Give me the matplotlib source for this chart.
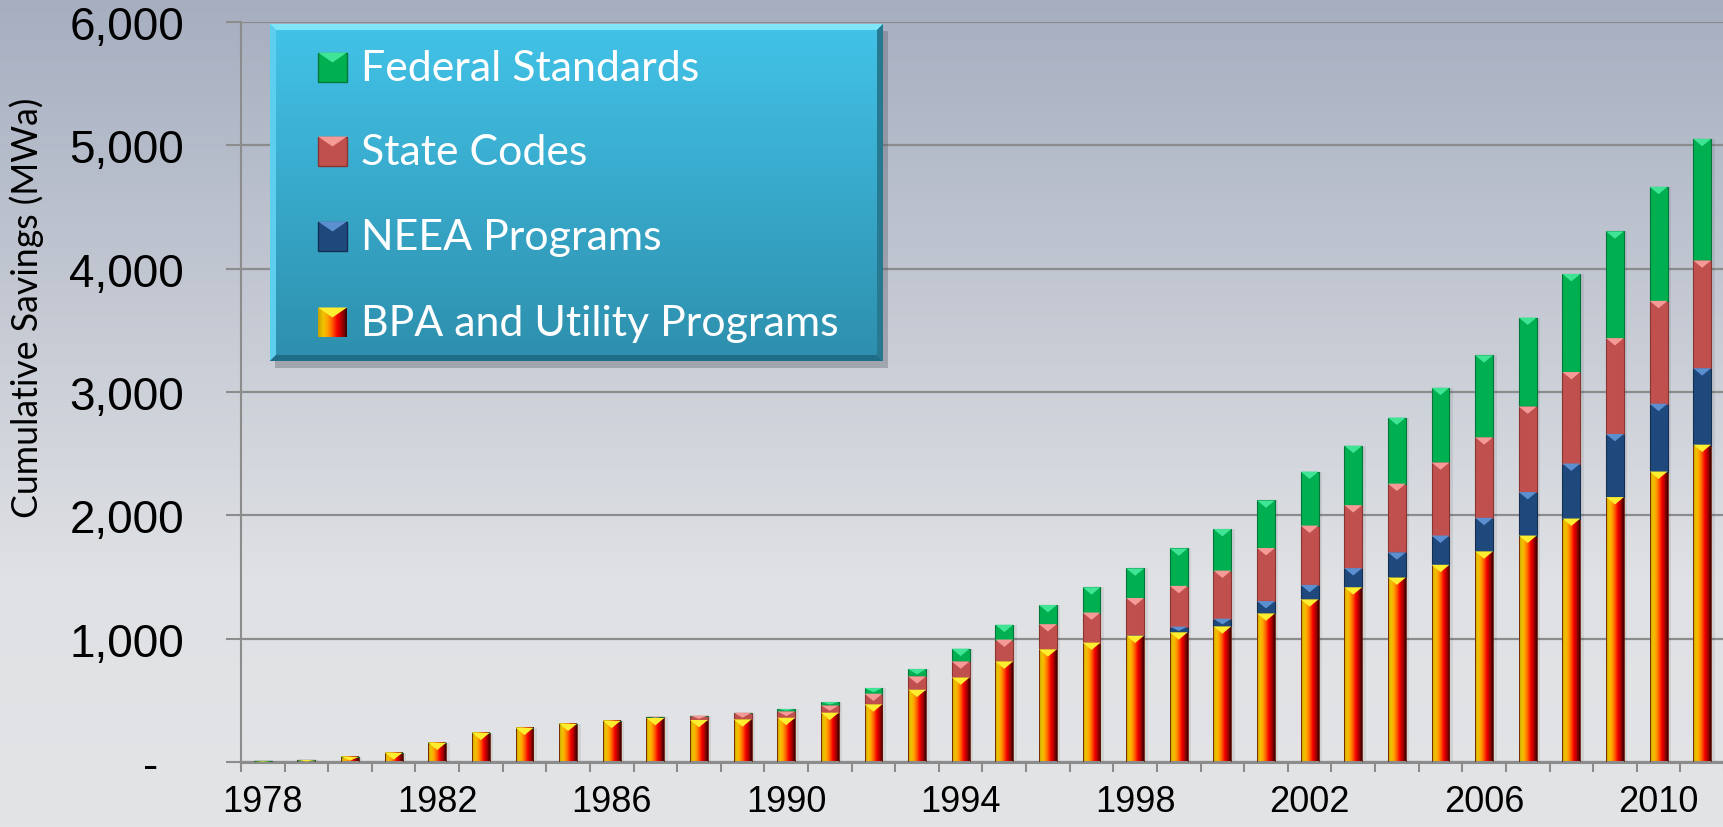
import numpy as np
import matplotlib.pyplot as plt
from matplotlib.patches import Polygon, Rectangle
from matplotlib.colors import LinearSegmentedColormap
from matplotlib.ticker import FuncFormatter

# Cumulative savings by source (MWa), one value per year
years = list(range(1978, 2012))
bpa = [8, 16, 43, 76, 157, 238, 278, 311, 335, 357, 341, 346, 359, 400, 468, 586, 686,
       816, 914, 968, 1025, 1052, 1100, 1205, 1319, 1417, 1496, 1599, 1708, 1836, 1974,
       2148, 2355, 2573]
neea = [0] * 20 + [5, 46, 62, 100, 117, 155, 204, 237, 272, 353, 446, 512, 550, 620]
state = [0] * 9 + [11, 35, 54, 52, 59, 86, 109, 130, 177, 204, 244, 300, 330, 390, 430,
                   481, 511, 557, 593, 653, 694, 742, 777, 834, 874]
federal = [0] * 12 + [19, 27, 46, 59, 103, 120, 155, 205, 240, 304, 337, 386, 438, 482,
                      536, 606, 665, 721, 795, 866, 925, 986]

labels = ['Federal Standards', 'State Codes', 'NEEA Programs', 'BPA and Utility Programs']
label_years = [1978, 1982, 1986, 1990, 1994, 1998, 2002, 2006, 2010]

green, green_lt, green_dk = '#00b050', '#3fe595', '#00763a'
red, red_lt, red_dk = '#c0504d', '#f59a96', '#8a3431'
blue, blue_lt, blue_dk = '#1f497d', '#5b8fd0', '#132e50'
bpa_cmap = LinearSegmentedColormap.from_list(
    'bpa', ['#c4a000', '#f0c400', '#ffa200', '#ff5a00', '#f40000', '#a80000', '#3a0000'])
bpa_img = bpa_cmap(np.linspace(0, 1, 64))[None, :, :]

W, H = 1724, 828
fig = plt.figure(figsize=(W / 100, H / 100), dpi=100)

# background gradient
bg = fig.add_axes([0, 0, 1, 1], zorder=-10)
bg_cmap = LinearSegmentedColormap.from_list(
    'bg', [(0, '#e3e4e6'), (0.3, '#dfe1e4'), (1, '#a6aec0')])
bg.imshow(np.linspace(0, 1, 256).reshape(-1, 1), cmap=bg_cmap, aspect='auto',
          extent=[0, 1, 0, 1], origin='lower')
bg.axis('off')

ax = fig.add_axes([241 / W, 1 - 763 / H, (W - 241) / W, 740 / H])
ax.patch.set_alpha(0)

x = np.array(years)
bw = 0.41
b1 = np.array(bpa)
b2 = b1 + np.array(neea)
b3 = b2 + np.array(state)
total = b3 + np.array(federal)

# soft shadow
ax.bar(x + 0.08, total, bw, color='k', alpha=0.07, lw=0, zorder=1.5)


def bevel(rects, light):
    for r in rects:
        h = r.get_height()
        if h <= 0:
            continue
        x0, w = r.get_x(), r.get_width()
        top = r.get_y() + h
        th = min(60, 0.75 * h)
        ax.add_patch(Polygon([(x0, top), (x0 + w, top), (x0 + w / 2, top - th)],
                             fc=light, ec='none', zorder=4))


bars = ax.bar(x, bpa, bw, color='none', edgecolor='#6a1a00', lw=0.6, zorder=3)
for r in bars:
    if r.get_height() <= 0:
        continue
    x0, y0 = r.get_x(), r.get_y()
    ax.imshow(bpa_img, extent=[x0, x0 + r.get_width(), y0, y0 + r.get_height()],
              aspect='auto', zorder=2.5, interpolation='bilinear')
bevel(bars, '#ffee30')

bars = ax.bar(x, neea, bw, bottom=b1, color=blue, edgecolor=blue_dk, lw=0.8, zorder=3)
bevel(bars, blue_lt)
bars = ax.bar(x, state, bw, bottom=b2, color=red, edgecolor=red_dk, lw=0.8, zorder=3)
bevel(bars, red_lt)
bars = ax.bar(x, federal, bw, bottom=b3, color=green, edgecolor=green_dk, lw=0.8, zorder=3)
bevel(bars, green_lt)

ax.set_xlim(1977.5, 2011.5)
ax.set_ylim(0, 6000)
ax.set_yticks(range(0, 6001, 1000))
ax.yaxis.set_major_formatter(FuncFormatter(lambda v, p: '-  ' if v == 0 else f'{v:,.0f}'))
ax.set_xticks(label_years)
ax.set_xticks(np.arange(1977.5, 2012, 1), minor=True)
ax.grid(axis='y', color='#8c8c8c', lw=1.6)
ax.set_axisbelow(True)
ax.tick_params(axis='y', length=11, width=1.5, color='#8c8c8c', pad=30, labelsize=33)
ax.tick_params(axis='x', which='major', length=0, pad=16, labelsize=26)
ax.tick_params(axis='x', which='minor', length=7, width=1.5, color='#8c8c8c')
for lab in ax.get_xticklabels() + ax.get_yticklabels():
    lab.set_family('Liberation Sans')
for s in ['top', 'right']:
    ax.spines[s].set_visible(False)
ax.spines['left'].set_color('#8c8c8c')
ax.spines['left'].set_linewidth(1.5)
ax.spines['bottom'].set_color('#8c8c8c')
ax.spines['bottom'].set_linewidth(2.2)

ylab = fig.text(27 / W, 1 - 308 / H, 'Cumulative Savings (MWa)', rotation=90, ha='center',
                va='center', fontsize=26, family='Lato')

# legend panel
lx, ly, lw_, lh = 270, 25, 613, 337
pad = 10
leg = fig.add_axes([lx / W, 1 - (ly + lh + pad) / H, (lw_ + pad) / W, (lh + pad) / H], zorder=5)
leg.axis('off')
leg.add_patch(Rectangle((5, 7), lw_, lh, fc='#555a66', alpha=0.35, ec='none', zorder=0.5))
box_cmap = LinearSegmentedColormap.from_list('box', ['#42c3e8', '#2e8fad'])
leg.imshow(np.linspace(0, 1, 128).reshape(-1, 1), cmap=box_cmap, aspect='auto',
           extent=[0, lw_, lh, 0], zorder=1)
b = 6
leg.add_patch(Polygon([(0, 0), (lw_, 0), (lw_ - b, b), (b, b)], fc='#7fe6f8', ec='none', zorder=2))
leg.add_patch(Polygon([(0, 0), (b, b), (b, lh - b), (0, lh)], fc='#5ccfee', ec='none', zorder=2))
leg.add_patch(Polygon([(0, lh), (b, lh - b), (lw_ - b, lh - b), (lw_, lh)], fc='#1f6d86',
                      ec='none', zorder=2))
leg.add_patch(Polygon([(lw_, 0), (lw_, lh), (lw_ - b, lh - b), (lw_ - b, b)], fc='#26798f',
                      ec='none', zorder=2))

swatches = [(green, green_lt, green_dk), (red, red_lt, red_dk), (blue, blue_lt, blue_dk), None]
row_y = [43, 127, 212, 298]
sq = 29
texts = []
for lab, sw, yc in zip(labels, swatches, row_y):
    x0, y0 = 48, yc - sq / 2
    if sw is None:
        leg.imshow(bpa_img, extent=[x0, x0 + sq, y0 + sq, y0], aspect='auto',
                   interpolation='bilinear', zorder=3)
        leg.add_patch(Polygon([(x0, y0), (x0 + sq, y0), (x0 + sq / 2, y0 + 10)],
                              fc='#ffee30', ec='none', zorder=4))
    else:
        leg.add_patch(Rectangle((x0, y0), sq, sq, fc=sw[0], ec=sw[2], lw=1, zorder=3))
        leg.add_patch(Polygon([(x0, y0), (x0 + sq, y0), (x0 + sq / 2, y0 + 10)],
                              fc=sw[1], ec='none', zorder=4))
    texts.append(leg.text(91, yc + 1, lab, color='white', fontsize=30, family='Lato',
                          va='center', ha='left', zorder=5))
leg.set_xlim(0, lw_ + pad)
leg.set_ylim(lh + pad, 0)

# size the Calibri-like texts to the widths seen in the original
fig.canvas.draw()
rend = fig.canvas.get_renderer()
scale = 478 / texts[-1].get_window_extent(rend).width
for t in texts:
    t.set_fontsize(t.get_fontsize() * scale)
ylab.set_fontsize(ylab.get_fontsize() * 420 / ylab.get_window_extent(rend).height)

fig.savefig('out.png', dpi=100)
